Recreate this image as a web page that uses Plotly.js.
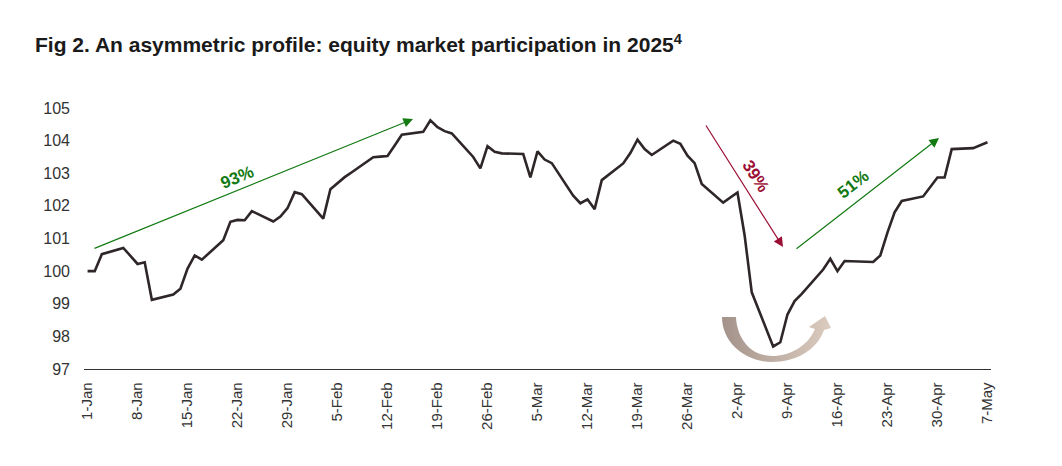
<!DOCTYPE html>
<html>
<head>
<meta charset="utf-8">
<script src="https://cdn.plot.ly/plotly-3.0.1.min.js"></script>
<style>
  html, body { margin: 0; padding: 0; background: #ffffff; }
  #chart { width: 1062px; height: 466px; }
</style>
</head>
<body>
<div id="chart"></div>
<script>
// equity market participation index, business days 1-Jan to 7-May 2025
var dates = [
  '2025-01-01', '2025-01-02', '2025-01-03', '2025-01-06', '2025-01-07', '2025-01-08', '2025-01-09', '2025-01-10',
  '2025-01-13', '2025-01-14', '2025-01-15', '2025-01-16', '2025-01-17', '2025-01-20', '2025-01-21', '2025-01-22',
  '2025-01-23', '2025-01-24', '2025-01-27', '2025-01-28', '2025-01-29', '2025-01-30', '2025-01-31',
  '2025-02-03', '2025-02-04', '2025-02-05', '2025-02-06', '2025-02-07', '2025-02-10', '2025-02-11', '2025-02-12',
  '2025-02-13', '2025-02-14', '2025-02-17', '2025-02-18', '2025-02-19', '2025-02-20', '2025-02-21', '2025-02-24',
  '2025-02-25', '2025-02-26', '2025-02-27', '2025-02-28',
  '2025-03-03', '2025-03-04', '2025-03-05', '2025-03-06', '2025-03-07', '2025-03-10', '2025-03-11', '2025-03-12',
  '2025-03-13', '2025-03-14', '2025-03-17', '2025-03-18', '2025-03-19', '2025-03-20', '2025-03-21', '2025-03-24',
  '2025-03-25', '2025-03-26', '2025-03-27', '2025-03-28', '2025-03-31',
  '2025-04-01', '2025-04-02', '2025-04-03', '2025-04-04', '2025-04-07', '2025-04-08', '2025-04-09', '2025-04-10',
  '2025-04-11', '2025-04-14', '2025-04-15', '2025-04-16', '2025-04-17', '2025-04-18', '2025-04-21', '2025-04-22',
  '2025-04-23', '2025-04-24', '2025-04-25', '2025-04-28', '2025-04-29', '2025-04-30',
  '2025-05-01', '2025-05-02', '2025-05-05', '2025-05-06', '2025-05-07'
];

var values = [
  100.00, 100.00, 100.52, 100.71, 100.47, 100.22, 100.27, 99.12,
  99.28, 99.46, 100.08, 100.48, 100.35, 100.95, 101.51, 101.57,
  101.56, 101.84, 101.52, 101.67, 101.93, 102.42, 102.36,
  101.61, 102.51, 102.70, 102.88, 103.03, 103.49, 103.51, 103.53,
  103.85, 104.18, 104.27, 104.62, 104.41, 104.29, 104.22, 103.50,
  103.15, 103.83, 103.66, 103.61,
  103.59, 102.87, 103.67, 103.42, 103.31, 102.31, 102.08, 102.20,
  101.90, 102.79, 103.30, 103.62, 104.03, 103.74, 103.56, 104.00,
  103.90, 103.54, 103.31, 102.67, 102.10,
  102.25, 102.41, 101.10, 99.35, 97.69, 97.82, 98.67, 99.08,
  99.30, 100.05, 100.38, 100.00, 100.31, 100.30, 100.28, 100.48,
  101.18, 101.80, 102.15, 102.29, 102.60, 102.87,
  102.87, 103.74, 103.77, 103.86, 103.95
];

var tickDates = [
  '2025-01-01', '2025-01-08', '2025-01-15', '2025-01-22', '2025-01-29', '2025-02-05', '2025-02-12',
  '2025-02-19', '2025-02-26', '2025-03-05', '2025-03-12', '2025-03-19', '2025-03-26', '2025-04-02',
  '2025-04-09', '2025-04-16', '2025-04-23', '2025-04-30', '2025-05-07'
];
var tickLabels = [
  '1-Jan', '8-Jan', '15-Jan', '22-Jan', '29-Jan', '5-Feb', '12-Feb',
  '19-Feb', '26-Feb', '5-Mar', '12-Mar', '19-Mar', '26-Mar', '2-Apr',
  '9-Apr', '16-Apr', '23-Apr', '30-Apr', '7-May'
];

// plot area in page pixels, used to place the hand-drawn annotations
var W = 1062, H = 466;
var margin = {l: 84, r: 71, t: 108, b: 97, pad: 0};
function fx(x) { return (x - margin.l) / (W - margin.l - margin.r); }
function fy(y) { return (H - margin.b - y) / (H - margin.t - margin.b); }

var GREEN = '#137a13';
var RED = '#9c0f35';
var TEXT_FONT = 'Liberation Sans, Arial, sans-serif';

function arrow(tail, tip, color) {
  return {
    xref: 'paper', yref: 'paper',
    x: fx(tip[0]), y: fy(tip[1]),
    axref: 'pixel', ayref: 'pixel',
    ax: tail[0] - tip[0], ay: tail[1] - tip[1],
    text: '', showarrow: true,
    arrowhead: 2, arrowsize: 1.6, arrowwidth: 1.2,
    arrowcolor: color, standoff: 0
  };
}

function label(text, pos, angle, color) {
  return {
    xref: 'paper', yref: 'paper',
    x: fx(pos[0]), y: fy(pos[1]),
    xanchor: 'center', yanchor: 'middle',
    text: text, showarrow: false, textangle: angle,
    font: {family: TEXT_FONT, size: 17, color: color, weight: 'bold'}
  };
}

// U-turn arrow under the April trough, built from page pixels
function uPath() {
  var pts = [
    'M', [722, 317],
    'C', [722, 343], [746, 362], [772, 362],
    'C', [796, 362], [817, 350], [824, 330],
    'L', [831, 328],
    'L', [825, 316],
    'L', [809, 327],
    'L', [815, 329],
    'C', [808, 346], [790, 356], [772, 356],
    'C', [752, 356], [737, 340], [736, 317],
    'Z'
  ];
  var s = '';
  pts.forEach(function (p) {
    if (typeof p === 'string') s += p + ' ';
    else s += fx(p[0]).toFixed(5) + ',' + fy(p[1]).toFixed(5) + ' ';
  });
  return s;
}

var trace = {
  x: dates,
  y: values,
  type: 'scatter',
  mode: 'lines',
  line: {color: '#2e2627', width: 2.6},
  hoverinfo: 'x+y'
};

var layout = {
  width: W,
  height: H,
  margin: margin,
  paper_bgcolor: '#ffffff',
  plot_bgcolor: '#ffffff',
  showlegend: false,
  title: {
    text: 'Fig 2. An asymmetric profile: equity market participation in 2025<sup>4</sup>',
    font: {family: 'Liberation Sans Narrow, Arial Narrow, Liberation Sans, sans-serif', size: 21, color: '#1a1a1a', weight: 'bold'},
    xref: 'container', yref: 'container',
    x: 35 / W, xanchor: 'left',
    y: 1 - 45 / H, yanchor: 'middle'
  },
  xaxis: {
    type: 'date',
    range: ['2024-12-31 12:00', '2025-05-07 12:00'],
    tickvals: tickDates,
    ticktext: tickLabels,
    tickangle: -90,
    ticks: '',
    showgrid: false,
    zeroline: false,
    showline: true,
    linecolor: '#333333',
    linewidth: 1.4,
    ticklabelstandoff: 6,
    tickfont: {family: TEXT_FONT, size: 15, color: '#333333'}
  },
  yaxis: {
    range: [97, 105],
    dtick: 1,
    tick0: 97,
    ticks: '',
    showgrid: false,
    zeroline: false,
    showline: false,
    ticklabelstandoff: 13,
    tickfont: {family: TEXT_FONT, size: 16, color: '#333333'}
  },
  shapes: [{
    type: 'path',
    xref: 'paper', yref: 'paper',
    path: uPath(),
    fillcolor: '#bcaca2',
    line: {width: 0},
    layer: 'below'
  }],
  annotations: [
    arrow([93, 249], [413, 119], GREEN),
    arrow([705, 124], [783, 247], RED),
    arrow([795, 250], [939, 138], GREEN),
    label('93%', [237, 177], -22, GREEN),
    label('39%', [756, 176], 57, RED),
    label('51%', [853, 184], -38, GREEN)
  ]
};

Plotly.newPlot('chart', [trace], layout, {displayModeBar: false, staticPlot: true}).then(function (gd) {
  // shapes have no gradient fill, so add one to the svg by hand
  var svg = gd.querySelector('.main-svg');
  var ns = 'http://www.w3.org/2000/svg';
  var defs = document.createElementNS(ns, 'defs');
  var grad = document.createElementNS(ns, 'linearGradient');
  grad.setAttribute('id', 'ugrad');
  grad.setAttribute('x1', '0'); grad.setAttribute('y1', '0');
  grad.setAttribute('x2', '1'); grad.setAttribute('y2', '0');
  [['0', '#a29289'], ['0.5', '#c1b0a5'], ['1', '#dccbbf']].forEach(function (s) {
    var stop = document.createElementNS(ns, 'stop');
    stop.setAttribute('offset', s[0]);
    stop.setAttribute('stop-color', s[1]);
    grad.appendChild(stop);
  });
  defs.appendChild(grad);
  svg.insertBefore(defs, svg.firstChild);
  gd.querySelectorAll('.shapelayer path').forEach(function (p) {
    p.style.fill = 'url(#ugrad)';
    p.style.fillOpacity = 1;
  });
});
</script>
</body>
</html>
